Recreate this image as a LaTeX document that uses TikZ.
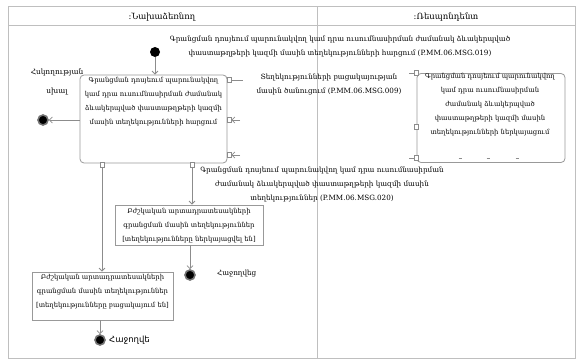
\documentclass[tikz,border=0pt]{standalone}
\usepackage{fontspec}
\setmainfont{DejaVu Serif}
\newfontfamily\armsans{DejaVu Sans}
\usetikzlibrary{arrows.meta,positioning}

\newcommand{\msgfont}{\fontsize{7.2}{14}\selectfont}
\newcommand{\boxfont}{\fontsize{6.8}{14}\selectfont}

\tikzset{
  lane/.style={draw=black!25, line width=1pt},
  flow/.style={draw=black!45, line width=0.8pt, -{Straight Barb[length=3pt,width=6pt]}},
  actbox/.style={draw=black!40, line width=0.8pt, rounded corners=4pt, fill=white, inner sep=0pt},
  objbox/.style={draw=black!40, line width=0.8pt, fill=white, inner sep=0pt},
  boxtext/.style={align=center, font=\boxfont, inner sep=0pt},
  startnode/.style={circle, fill=black, minimum size=10pt, inner sep=0pt},
  endnode/.style={circle, fill=black, draw=black!55, line width=1.6pt, minimum size=10pt, inner sep=0pt},
  pinbox/.style={draw=black!45, fill=white, line width=0.6pt, minimum width=4pt, minimum height=5pt, inner sep=0pt},
  msg/.style={align=center, font=\msgfont, inner sep=1pt}
}

\begin{document}
\begin{tikzpicture}[x=1pt, y=-1pt]
\useasboundingbox (0,0) rectangle (584,363);

% Lanes
\draw[lane] (8,7) rectangle (575,359);
\draw[lane] (8,26) -- (575,26);
\draw[lane] (317,7) -- (317,359);
\node[font=\fontsize{8.5}{10}\selectfont] (lanea) at (162,17) {:Նախաձեռնող};
\node[font=\fontsize{8.5}{10}\selectfont] (laneb) at (446,17) {:Ռեսպոնդենտ};

% Start
\node[startnode] (start) at (155,52) {};

% Request activity
\node[actbox, minimum width=147pt, minimum height=88pt] (req) at (153.5,119) {};
\node[boxtext, anchor=north] (reqtext) at (153.5,77)
  {Գրանցման դոսյեում պարունակվող\\ կամ դրա ուսումնասիրման ժամանակ\\ ձևակերպված փաստաթղթերի կազմի\\ մասին տեղեկությունների հարցում};

% Response activity
\node[actbox, minimum width=148pt, minimum height=89pt] (resp) at (491,118) {};
\node[boxtext, anchor=north] (resptext) at (490,73)
  {Գրանցման դոսյեում պարունակվող\\ կամ դրա ուսումնասիրման\\ ժամանակ ձևակերպված\\ փաստաթղթերի կազմի մասին\\ տեղեկությունների ներկայացում};
\foreach \tx in {460,488,517}
  \draw[black!45, line width=0.6pt] (\tx-1.5,158) -- (\tx+1.5,158);

% Pins
\node[pinbox] (pout) at (229,80) {};
\node[pinbox] (pina) at (229,120) {};
\node[pinbox] (pinb) at (229,155) {};
\node[pinbox] (pbl) at (102,165) {};
\node[pinbox] (pbr) at (192,165) {};
\node[pinbox] (rina) at (416,73) {};
\node[pinbox] (rinb) at (416,127) {};
\node[pinbox] (rout) at (416,158) {};
\coordinate (poutend) at (243,80);
\coordinate (pinaend) at (240,120);
\coordinate (pinbend) at (240,155);
\coordinate (rinaend) at (409,73);
\coordinate (routend) at (409,158);
\draw[black!45, line width=0.6pt] (pout) -- (poutend);
\draw[flow] (pinaend) -- (pina);
\draw[flow] (pinbend) -- (pinb);
\draw[black!45, line width=0.6pt] (rinaend) -- (rina);
\draw[black!45, line width=0.6pt] (routend) -- (rout);

% Messages
\node[msg] (msga) at (340,47)
  {Գրանցման դոսյեում պարունակվող կամ դրա ուսումնասիրման ժամանակ ձևակերպված\\ փաստաթղթերի կազմի մասին տեղեկությունների հարցում (P.MM.06.MSG.019)};
\node[msg] (msgb) at (329,85)
  {Տեղեկությունների բացակայության\\ մասին ծանուցում (P.MM.06.MSG.009)};
\node[msg] (msgc) at (322,184)
  {Գրանցման դոսյեում պարունակվող կամ դրա ուսումնասիրման\\ ժամանակ ձևակերպված փաստաթղթերի կազմի մասին\\ տեղեկություններ (P.MM.06.MSG.020)};

% Control error
\node[endnode] (enda) at (43,120) {};
\node[msg, font=\fontsize{7.4}{19}\selectfont] (enda lbl) at (57,82) {Հսկողության\\ սխալ};

% Result objects
\node[objbox, minimum width=148pt, minimum height=40pt] (found) at (189,225) {};
\node[boxtext] (foundtext) at (189,226)
  {Բժշկական արտադրատեսակների\\ գրանցման մասին տեղեկություններ\\ {[}տեղեկությունները ներկայացվել են{]}};
\node[objbox, minimum width=141pt, minimum height=48pt] (absent) at (102.5,296) {};
\node[boxtext] (absenttext) at (102.5,292)
  {Բժշկական արտադրատեսակների\\ գրանցման մասին տեղեկություններ\\ {[}տեղեկությունները բացակայում են{]}};

% Ends
\node[endnode] (endb) at (190,275) {};
\node[msg, anchor=west] (endb lbl) at (216,274) {Հաջողվեց};
\node[endnode] (endc) at (100,340) {};
\node[anchor=west, font=\armsans\fontsize{8.5}{10}\selectfont, inner sep=1pt] (endc lbl) at (108,340) {Հաջողվե};

% Flows
\draw[flow] (start) -- (start |- req.north);
\draw[flow] (req.west |- enda) -- (enda);
\draw[flow] (pbr) -- (pbr |- found.north);
\draw[flow] (pbl) -- (pbl |- absent.north);
\draw[flow] (found.south -| endb) -- (endb);
\draw[flow] (absent.south -| endc) -- (endc);

\end{tikzpicture}
\end{document}
